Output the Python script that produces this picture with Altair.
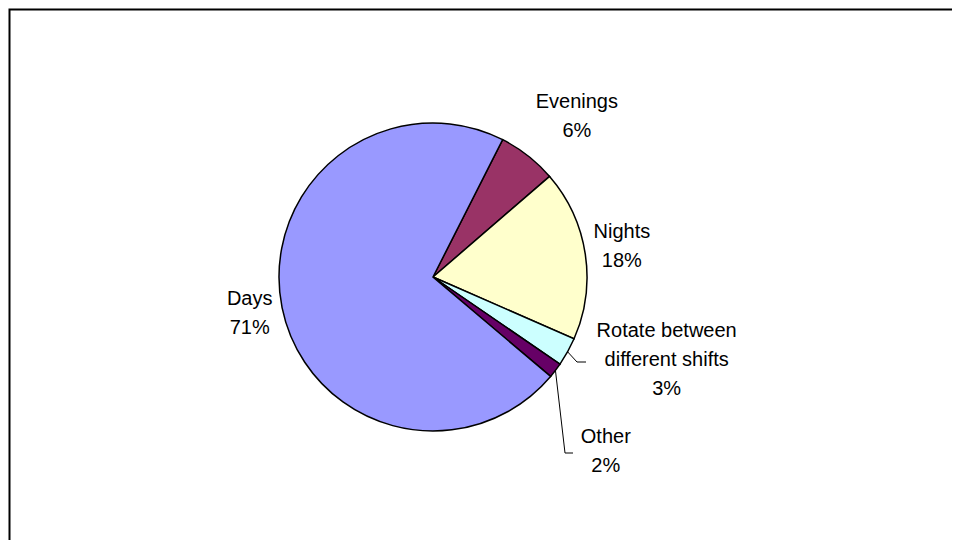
import math
import altair as alt
import pandas as pd

categories = ["Evenings", "Nights", "Rotate between different shifts", "Other", "Days"]
values = [6.2, 17.9, 3.0, 1.6, 71.3]
label_names = ["Evenings", "Nights", "Rotate between\ndifferent shifts", "Other", "Days"]
colors = ["#993366", "#FFFFCC", "#CCFFFF", "#660066", "#9999FF"]

df = pd.DataFrame({
    "category": categories,
    "value": values,
    "order": list(range(len(categories))),
    "name": label_names,
})

W, H = 944, 532
START = math.radians(26.9)
CX, CY, R = 425, 269, 154
FONT = "Liberation Sans"

theta_scale = alt.Scale(type="linear", range=[START, START + 2 * math.pi])

base = (
    alt.Chart(df)
    .transform_joinaggregate(total="sum(value)")
    .transform_window(cum="sum(value)", sort=[alt.SortField("order")], frame=[None, 0])
    .transform_calculate(
        mid="datum.cum - datum.value / 2",
        label="datum.name + '\\n' + format(datum.value / datum.total, '.0%')",
        ang=f"{START} + 2 * PI * (datum.cum - datum.value / 2) / datum.total",
    )
)

pie = alt.Chart(df).mark_arc(radius=R, stroke="black", strokeWidth=1.5).encode(
    theta=alt.Theta("value:Q", scale=theta_scale),
    color=alt.Color("category:N", scale=alt.Scale(domain=categories, range=colors), legend=None),
    order=alt.Order("order:Q"),
    x=alt.value(CX),
    y=alt.value(CY),
)

# label placement styling: (radius, dx, dy)
label_style = {
    "Evenings": (222, 7, 6),
    "Nights": (193, -2, -10),
    "Rotate between different shifts": (241, 23, -57),
    "Other": (240, -18, 20),
    "Days": (185, -2, -9),
}

text_layers = []
for cat in categories:
    r, dx, dy = label_style[cat]
    t = base.transform_filter(alt.datum.category == cat).mark_text(
        radius=r, dx=dx, dy=dy, align="center", baseline="alphabetic",
        lineBreak="\n", lineHeight=29, fontSize=20, font=FONT, color="black",
    ).encode(
        theta=alt.Theta("mid:Q", stack=None, scale=theta_scale),
        text="label:N",
        x=alt.value(CX),
        y=alt.value(CY),
    )
    text_layers.append(t)

# leader line styling: (elbow x, elbow y, end x)
leader_style = {
    "Rotate between different shifts": (569, 354, 578),
    "Other": (557, 445, 565),
}

leader_layers = []
for cat, (ex, ey, hx) in leader_style.items():
    ln = base.transform_filter(alt.datum.category == cat).transform_calculate(
        pts=(
            f"[{{k: 0, px: {CX} + {R} * sin(datum.ang), py: {CY} - {R} * cos(datum.ang)}},"
            f" {{k: 1, px: {ex}, py: {ey}}}, {{k: 2, px: {hx}, py: {ey}}}]"
        )
    ).transform_flatten(["pts"], ["pt"]).transform_calculate(
        k="datum.pt.k", px="datum.pt.px", py="datum.pt.py"
    ).mark_line(color="black", strokeWidth=1).encode(
        x=alt.X("px:Q", scale=None, axis=None),
        y=alt.Y("py:Q", scale=None, axis=None),
        order=alt.Order("k:Q"),
    )
    leader_layers.append(ln)

# chart border (top and left edges visible in the frame)
frame = base.transform_filter(alt.datum.order == 0).transform_calculate(
    pts=f"[{{k: 0, px: 1.5, py: {H}}}, {{k: 1, px: 1.5, py: 1.5}}, {{k: 2, px: {W}, py: 1.5}}]"
).transform_flatten(["pts"], ["pt"]).transform_calculate(
    k="datum.pt.k", px="datum.pt.px", py="datum.pt.py"
).mark_line(color="black", strokeWidth=2).encode(
    x=alt.X("px:Q", scale=None, axis=None),
    y=alt.Y("py:Q", scale=None, axis=None),
    order=alt.Order("k:Q"),
)

chart = alt.layer(pie, *leader_layers, *text_layers, frame).properties(
    width=W, height=H, autosize="none", padding=0, background="white"
).configure_view(stroke=None)

chart.save("out.html", embed_options={"renderer": "svg", "actions": False})
